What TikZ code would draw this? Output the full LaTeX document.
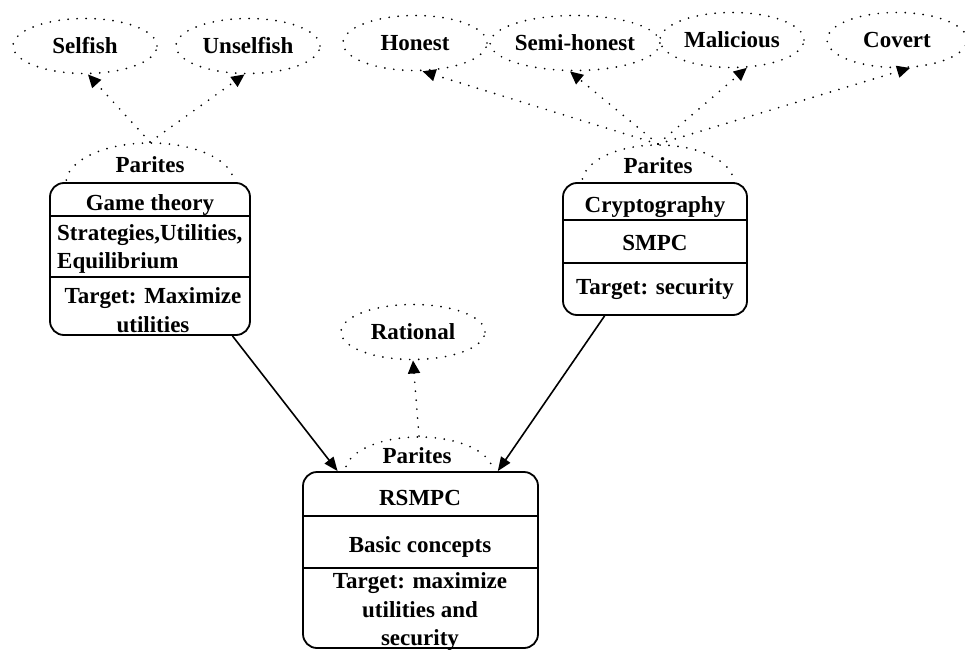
\documentclass[tikz,border=0pt]{standalone}
\usepackage{fontspec}
\setmainfont{Liberation Serif}
\usetikzlibrary{shapes.geometric,arrows.meta}
\begin{document}
\begin{tikzpicture}[x=1pt,y=-1pt,
  font=\bfseries\fontsize{23}{27}\selectfont,
  dots/.style={line width=1.9pt, line cap=round, dash pattern=on 0pt off 9pt},
  oval/.style={ellipse, draw, dots, minimum width=144pt, minimum height=55pt, inner sep=0pt},
  parc/.style={ellipse, draw, dots, inner sep=0pt},
  box/.style={draw, line width=1.8pt, rounded corners=14pt, fill=white, inner sep=0pt},
  divider/.style={line width=1.8pt},
  txt/.style={inner sep=0pt, anchor=base},
  dotarrow/.style={dots, -{Triangle[length=13pt,width=12pt]}},
  solidarrow/.style={line width=1.6pt, -{Triangle[length=14pt,width=11pt]}},
]
\useasboundingbox (0,0) rectangle (965,650);

% top ovals
\node[oval] (selfish) at (85,46) {Selfish};
\node[oval] (unselfish) at (248,46) {Unselfish};
\node[oval] (honest) at (415,43) {Honest};
\node[oval] (semi) at (575,43) {Semi-honest};
\node[oval] (malicious) at (732,40) {Malicious};
\node[oval, minimum width=140pt] (covert) at (897,40) {Covert};
\node[oval] (rational) at (413,332) {Rational};

% parties arcs (lower halves hidden by boxes)
\node[parc, minimum width=168pt, minimum height=80pt] (gtpar) at (150,183) {};
\node[parc, minimum width=152pt, minimum height=76pt] (crpar) at (658,183) {};
\node[parc, minimum width=148pt, minimum height=70pt] (rspar) at (419,472) {};

% boxes
\node[box, minimum width=200pt, minimum height=152pt] (gt) at (150,259) {};
\node[box, minimum width=184pt, minimum height=132pt] (cr) at (655,249) {};
\node[box, minimum width=235pt, minimum height=176pt] (rs) at (420.5,560) {};

% dividers
\draw[divider] (gt.west |- 0,216) -- (gt.east |- 0,216);
\draw[divider] (gt.west |- 0,277) -- (gt.east |- 0,277);
\draw[divider] (cr.west |- 0,220) -- (cr.east |- 0,220);
\draw[divider] (cr.west |- 0,263) -- (cr.east |- 0,263);
\draw[divider] (rs.west |- 0,516) -- (rs.east |- 0,516);
\draw[divider] (rs.west |- 0,568) -- (rs.east |- 0,568);

% Parites labels
\node[txt] (gtlab) at (150,172) {Parites};
\node[txt] (crlab) at (658,173) {Parites};
\node[txt] (rslab) at (417,463) {Parites};

% game theory texts
\node[txt] (gt1) at (150,210) {Game theory};
\node[txt, anchor=base west] (gt2) at (57,240) {Strategies,Utilities,};
\node[txt, anchor=base west] (gt3) at (57,268) {Equilibrium};
\node[txt] (gt4) at (153,303) {Target: Maximize};
\node[txt] (gt5) at (153,332) {utilities};

% cryptography texts
\node[txt] (cr1) at (655,212) {Cryptography};
\node[txt] (cr2) at (655,250) {SMPC};
\node[txt] (cr3) at (655,294) {Target: security};

% RSMPC texts
\node[txt] (rs1) at (420,505) {RSMPC};
\node[txt] (rs2) at (420,552) {Basic concepts};
\node[txt] (rs3) at (420,588) {Target: maximize};
\node[txt] (rs4) at (420,617) {utilities and};
\node[txt] (rs5) at (420,645) {security};

% dotted arrows
\draw[dotarrow] (gtpar.north) -- (selfish.-84);
\draw[dotarrow] (gtpar.north) -- (unselfish.-97);
\draw[dotarrow] (crpar.north) -- (honest.-75);
\draw[dotarrow] (crpar.north) -- (semi.-100);
\draw[dotarrow] (crpar.north) -- (malicious.-62);
\draw[dotarrow] (crpar.north) -- (covert.-65);
\draw[dotarrow] (rspar.north) -- (rational.south);

% solid arrows
\draw[solidarrow] (gt.-43.5) -- (rs.133.5);
\draw[solidarrow] (cr.233) -- (rs.49);
\end{tikzpicture}
\end{document}
